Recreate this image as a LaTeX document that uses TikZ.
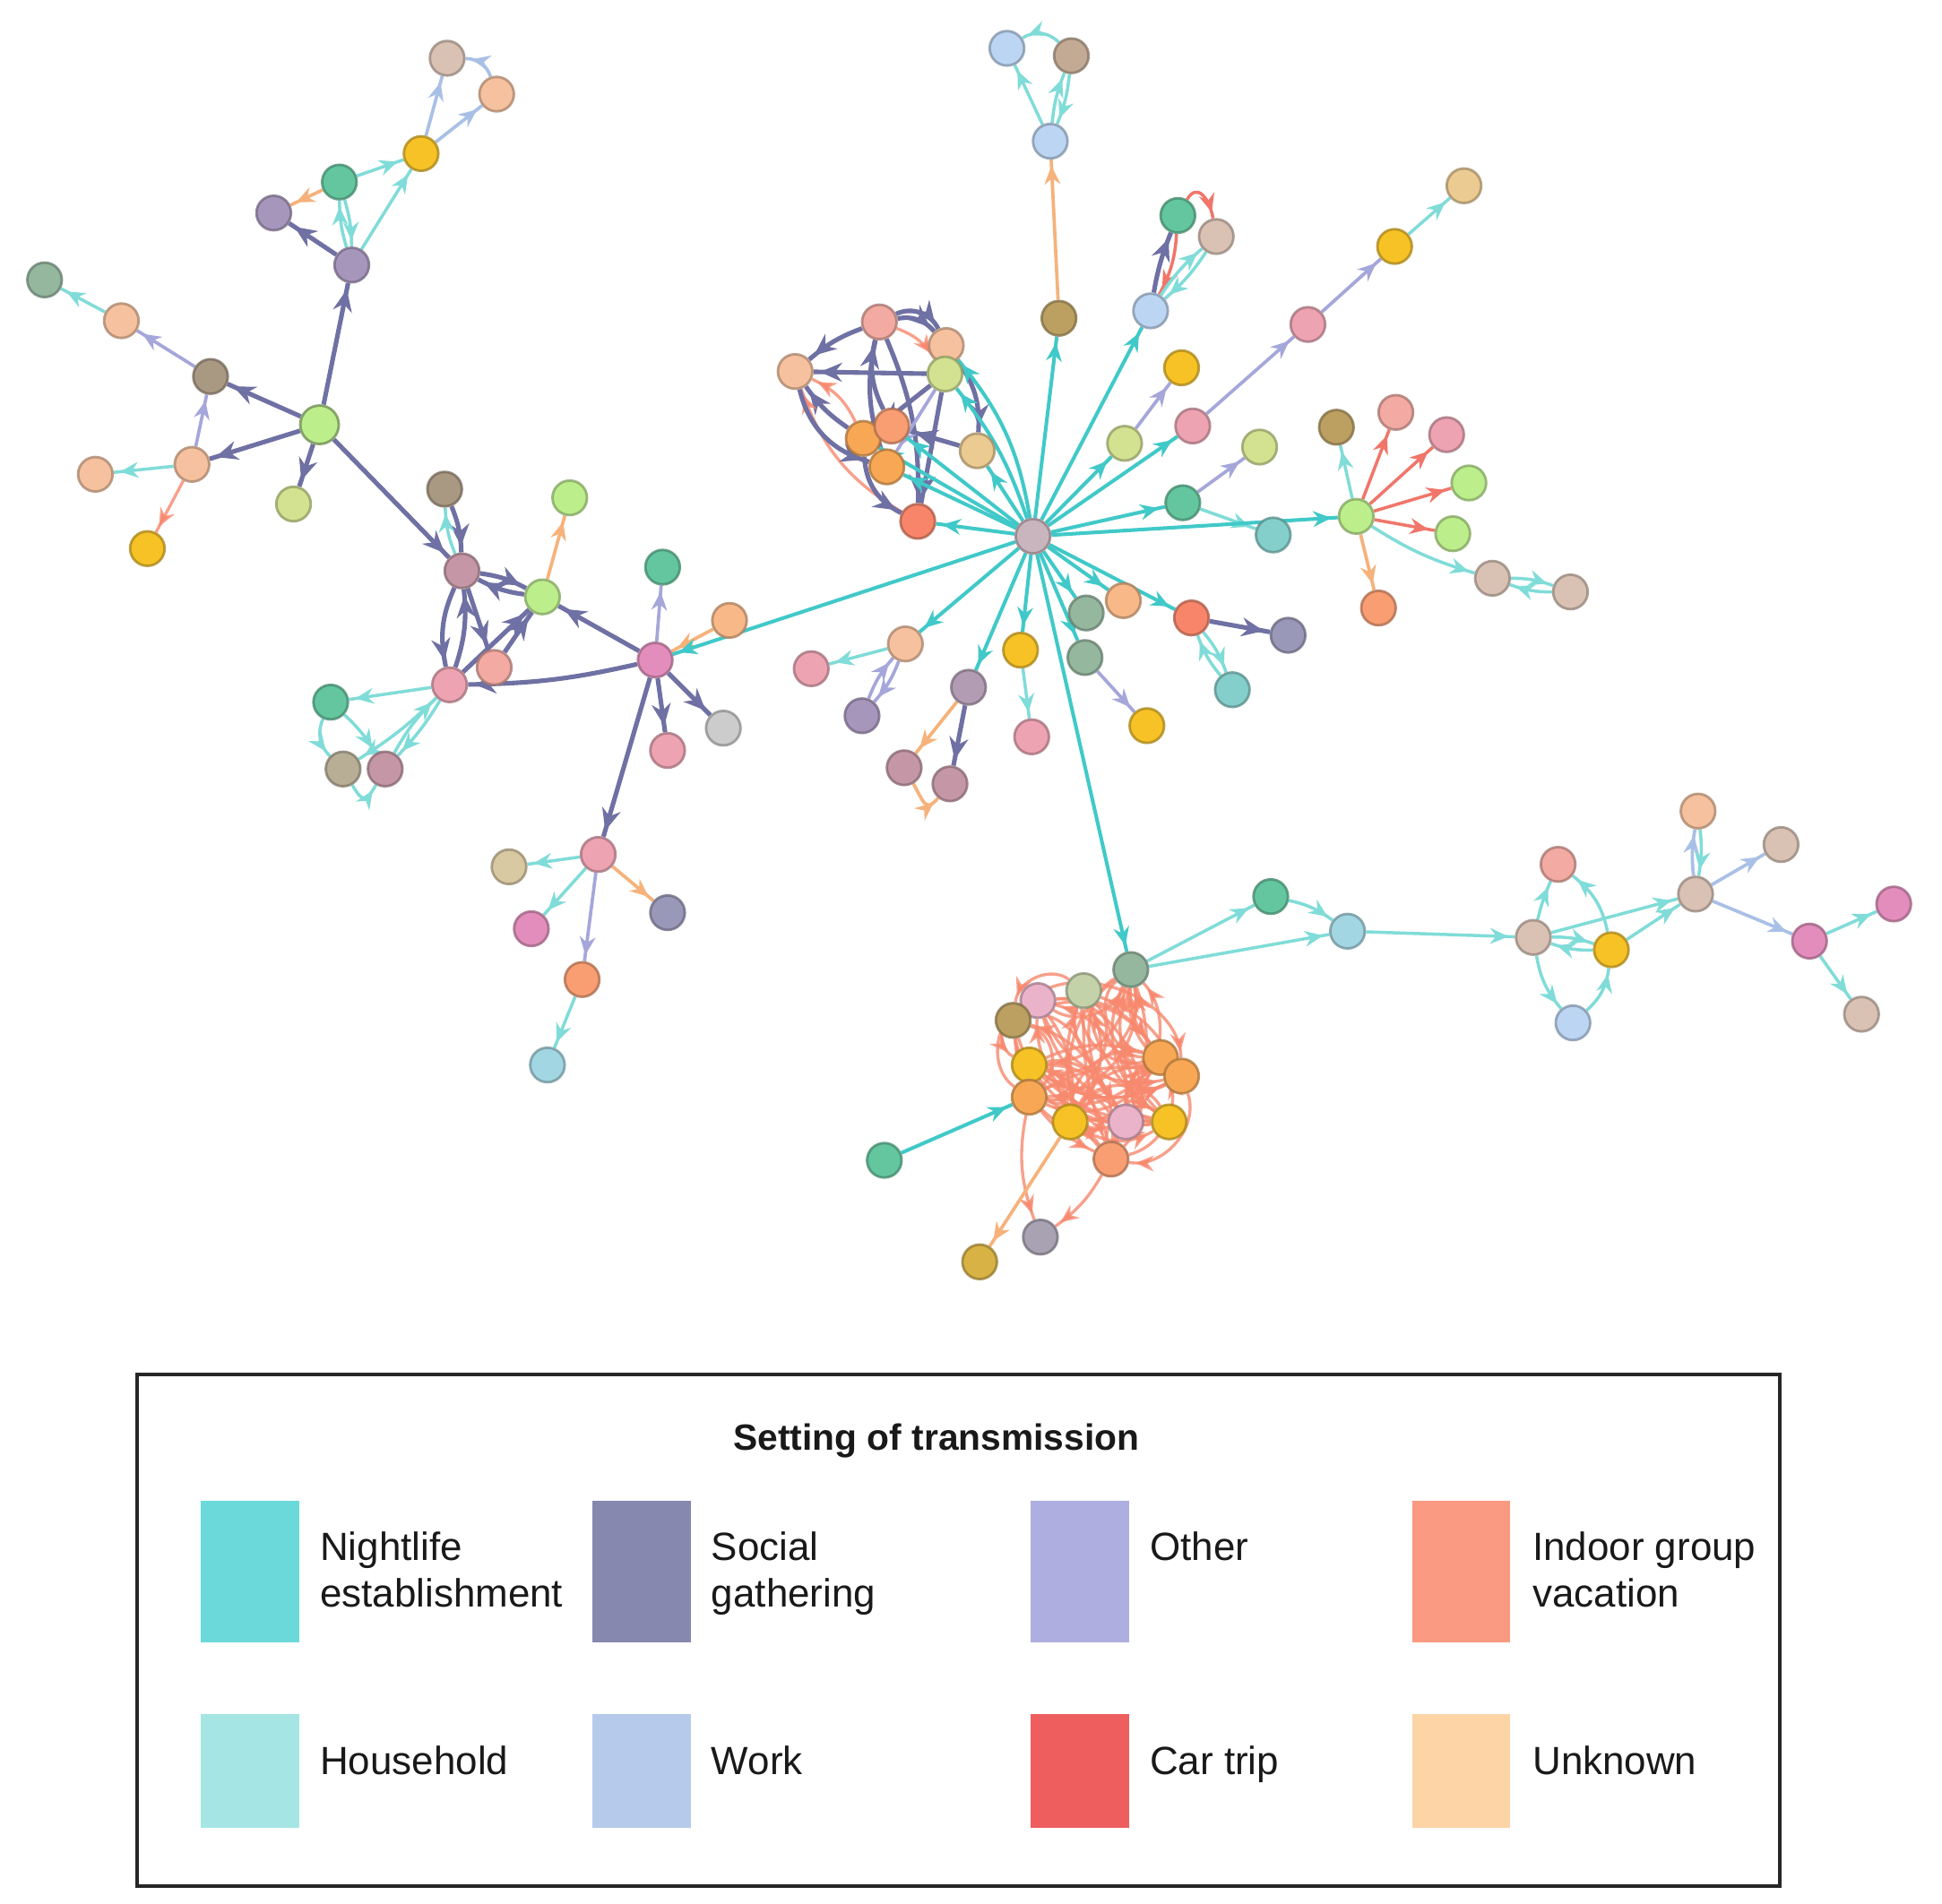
\documentclass[tikz,border=0pt]{standalone}
\usepackage{fontspec}
\setmainfont{Liberation Sans}
\usetikzlibrary{arrows.meta,decorations.markings}
\pgfdeclarelayer{bglayer}
\pgfdeclarelayer{edgelayer}
\pgfsetlayers{bglayer,edgelayer,main}
% node fills
\definecolor{cPeach}{HTML}{F6C19E}
\definecolor{cGold}{HTML}{F6C226}
\definecolor{cGreen}{HTML}{63C69E}
\definecolor{cSage}{HTML}{94B79E}
\definecolor{cTaupe}{HTML}{A99882}
\definecolor{cTaupeL}{HTML}{C2AA94}
\definecolor{cKhaki}{HTML}{B8AE96}
\definecolor{cLime}{HTML}{BDEE8C}
\definecolor{cYG}{HTML}{D2E290}
\definecolor{cPurple}{HTML}{A796BC}
\definecolor{cPink}{HTML}{EDA3B2}
\definecolor{cPinkL}{HTML}{EBB3CA}
\definecolor{cSalmon}{HTML}{F2AAA2}
\definecolor{cOrange}{HTML}{F8A855}
\definecolor{cOrangeL}{HTML}{F8B888}
\definecolor{cOrRed}{HTML}{F89E72}
\definecolor{cLBlue}{HTML}{BBD5F3}
\definecolor{cBeige}{HTML}{D9C2B4}
\definecolor{cOlive}{HTML}{BBA062}
\definecolor{cTeal}{HTML}{84CFCB}
\definecolor{cTealL}{HTML}{A2D6E2}
\definecolor{cGray}{HTML}{CCCCCC}
\definecolor{cSlate}{HTML}{9A98B8}
\definecolor{cGrayV}{HTML}{A8A2B2}
\definecolor{cMagenta}{HTML}{E28DBB}
\definecolor{cMauve}{HTML}{C597A6}
\definecolor{cMauveP}{HTML}{B29CB4}
\definecolor{cRedOr}{HTML}{F8856A}
\definecolor{cTan}{HTML}{EBCB92}
\definecolor{cSand}{HTML}{D9C9A2}
\definecolor{cPale}{HTML}{C4D2AA}
\definecolor{cGoldD}{HTML}{D8B244}
\definecolor{cHub}{HTML}{C9B5BD}
% edge colours
\definecolor{lNL}{HTML}{40C9C8}
\definecolor{lHH}{HTML}{80DCD8}
\definecolor{lSG}{HTML}{6F70A3}
\definecolor{lOT}{HTML}{A5A6DA}
\definecolor{lIV}{HTML}{F7896F}
\definecolor{lWK}{HTML}{A9C0E6}
\definecolor{lCT}{HTML}{F0766A}
\definecolor{lUK}{HTML}{F6B27A}
% legend colours
\definecolor{kNL}{HTML}{6BD9D9}
\definecolor{kSG}{HTML}{8788B0}
\definecolor{kOT}{HTML}{AEAEE0}
\definecolor{kIV}{HTML}{FA9A82}
\definecolor{kHH}{HTML}{A5E6E4}
\definecolor{kWK}{HTML}{B6CAEB}
\definecolor{kCT}{HTML}{EE5E5E}
\definecolor{kUK}{HTML}{FDD4A6}
\tikzset{
  nd/.style={circle, fill=#1, draw=#1!70!black, draw opacity=0.8, line width=0.8pt, minimum size=0.385cm, inner sep=0pt},
  mkS/.style={postaction={decorate}, decoration={markings, mark=at position -2pt with {\arrow{Stealth[length=5.8pt,width=5pt]}}}},
  mkL/.style={postaction={decorate}, decoration={markings, mark=at position -2pt with {\arrow{Stealth[length=7pt,width=6pt]}}}},
  eNL/.style={draw=lNL, line width=1.15pt, mkS},
  eHH/.style={draw=lHH, line width=1pt, mkS},
  eSG/.style={draw=lSG, line width=1.45pt, mkL},
  eOT/.style={draw=lOT, line width=1.05pt, mkS},
  eIV/.style={draw=lIV, line width=0.95pt, draw opacity=0.8, mkS},
  eWK/.style={draw=lWK, line width=1.05pt, mkS},
  eCT/.style={draw=lCT, line width=1pt, mkS},
  eUK/.style={draw=lUK, line width=1.05pt, mkS},
  swatch/.style={inner sep=0pt, outer sep=0pt},
  lgtext/.style={anchor=base west, inner sep=0pt, font=\fontsize{12.5}{15}\selectfont, text=black!90},
}
\begin{document}
\begin{tikzpicture}[x=0.01382cm,y=-0.01382cm]
\useasboundingbox (0,0) rectangle (1568,1537);
\begin{pgfonlayer}{bglayer}
\fill[white] (0,0) rectangle (1568,1537);
\end{pgfonlayer}

% ---------------- nodes ----------------
% top-left
\node[nd=cSage] (A1) at (36,226) {};
\node[nd=cPeach] (A2) at (98,259) {};
\node[nd=cTaupe] (A3) at (170,304) {};
\node[nd=cLime, minimum size=0.43cm, draw=cLime!60!black] (A4) at (258,343) {};
\node[nd=cPeach] (A5) at (155,375) {};
\node[nd=cPeach] (A6) at (77,383) {};
\node[nd=cGold] (A7) at (119,443) {};
\node[nd=cYG] (A8) at (237,407) {};
\node[nd=cPurple] (A9) at (284,214) {};
\node[nd=cPurple] (A10) at (221,172) {};
\node[nd=cGreen] (A11) at (274,147) {};
\node[nd=cGold] (A12) at (340,124) {};
\node[nd=cBeige] (A13) at (361,47) {};
\node[nd=cPeach] (A14) at (401,76) {};
% middle-left
\node[nd=cTaupe] (B0) at (359,395) {};
\node[nd=cMauve] (B1) at (373,461) {};
\node[nd=cLime] (B2) at (438,482) {};
\node[nd=cLime] (B3) at (460,402) {};
\node[nd=cPink] (B4) at (363,553) {};
\node[nd=cSalmon] (B5) at (399,539) {};
\node[nd=cMagenta] (B6) at (529,533) {};
\node[nd=cGreen] (B7) at (535,458) {};
\node[nd=cOrangeL] (B8) at (589,501) {};
\node[nd=cGray] (B9) at (584,588) {};
\node[nd=cPink] (B10) at (539,606) {};
\node[nd=cGreen] (B11) at (267,567) {};
\node[nd=cKhaki] (B12) at (277,621) {};
\node[nd=cMauve] (B13) at (311,621) {};
\node[nd=cPink] (B14) at (483,690) {};
\node[nd=cSand] (B15) at (411,700) {};
\node[nd=cMagenta] (B16) at (429,750) {};
\node[nd=cSlate] (B17) at (539,737) {};
\node[nd=cOrRed] (B18) at (470,791) {};
\node[nd=cTealL] (B19) at (442,860) {};
% hub and upper-left cluster
\node[nd=cHub] (C0) at (834,433) {};
\node[nd=cSalmon] (C1) at (710,260) {};
\node[nd=cPeach] (C2) at (642,300) {};
\node[nd=cPeach] (C3) at (764,279) {};
\node[nd=cYG] (C4) at (763,302) {};
\node[nd=cOrange] (C5) at (697,354) {};
\node[nd=cOrRed] (C6) at (720,344) {};
\node[nd=cOrange] (C7) at (716,377) {};
\node[nd=cTan] (C8) at (789,364) {};
\node[nd=cRedOr] (C9) at (741,421) {};
% top
\node[nd=cOlive] (D1) at (855,257) {};
\node[nd=cLBlue] (D2) at (848,114) {};
\node[nd=cLBlue] (D3) at (813,39) {};
\node[nd=cTaupeL] (D4) at (865,45) {};
% upper right
\node[nd=cLBlue] (E1) at (929,251) {};
\node[nd=cGreen] (E2) at (951,174) {};
\node[nd=cBeige] (E3) at (982,191) {};
\node[nd=cGold] (E4) at (954,297) {};
\node[nd=cYG] (E5) at (908,358) {};
\node[nd=cPink] (E6) at (963,344) {};
\node[nd=cPink] (E7) at (1056,262) {};
\node[nd=cGold] (E8) at (1126,199) {};
\node[nd=cTan] (E9) at (1182,150) {};
\node[nd=cYG] (E10) at (1017,361) {};
\node[nd=cGreen] (E11) at (955,406) {};
\node[nd=cTeal] (E12) at (1028,432) {};
\node[nd=cLime] (E13) at (1095,417) {};
\node[nd=cOlive] (E14) at (1079,345) {};
\node[nd=cSalmon] (E15) at (1127,333) {};
\node[nd=cPink] (E16) at (1168,351) {};
\node[nd=cLime] (E17) at (1186,390) {};
\node[nd=cLime] (E18) at (1173,431) {};
\node[nd=cBeige] (E19) at (1205,467) {};
\node[nd=cBeige] (E20) at (1268,478) {};
\node[nd=cOrRed] (E21) at (1113,491) {};
% below hub
\node[nd=cOrangeL] (F1) at (907,485) {};
\node[nd=cSage] (F2) at (877,495) {};
\node[nd=cRedOr] (F3) at (962,499) {};
\node[nd=cSlate] (F4) at (1040,513) {};
\node[nd=cTeal] (F5) at (995,557) {};
\node[nd=cSage] (F6) at (876,531) {};
\node[nd=cGold] (F7) at (926,586) {};
\node[nd=cGold] (F8) at (824,525) {};
\node[nd=cPink] (F9) at (833,595) {};
\node[nd=cMauveP] (F10) at (782,555) {};
\node[nd=cPeach] (F11) at (731,520) {};
\node[nd=cPink] (F12) at (655,540) {};
\node[nd=cPurple] (F13) at (696,578) {};
\node[nd=cMauve] (F14) at (730,620) {};
\node[nd=cMauve] (F15) at (767,633) {};
% indoor group vacation cluster
\node[nd=cSage] (G0) at (913,783) {};
\node[nd=cPale] (G1) at (875,800) {};
\node[nd=cPinkL] (G2) at (838,808) {};
\node[nd=cOlive] (G3) at (818,824) {};
\node[nd=cGold] (G4) at (831,860) {};
\node[nd=cOrange] (G5) at (831,886) {};
\node[nd=cGold] (G6) at (864,906) {};
\node[nd=cPinkL] (G7) at (909,906) {};
\node[nd=cOrange] (G8) at (937,854) {};
\node[nd=cOrange] (G9) at (954,869) {};
\node[nd=cGold] (G10) at (944,906) {};
\node[nd=cOrRed] (G11) at (897,936) {};
\node[nd=cGrayV] (G12) at (840,999) {};
\node[nd=cGoldD] (G13) at (791,1019) {};
\node[nd=cGreen] (G14) at (714,937) {};
% right chain
\node[nd=cGreen] (H1) at (1026,724) {};
\node[nd=cTealL] (H2) at (1088,752) {};
\node[nd=cBeige] (H3) at (1238,757) {};
\node[nd=cGold] (H4) at (1301,767) {};
\node[nd=cSalmon] (H5) at (1258,698) {};
\node[nd=cLBlue] (H6) at (1270,826) {};
\node[nd=cBeige] (H7) at (1369,722) {};
\node[nd=cPeach] (H8) at (1371,655) {};
\node[nd=cBeige] (H9) at (1438,682) {};
\node[nd=cMagenta] (H10) at (1461,760) {};
\node[nd=cMagenta] (H11) at (1529,730) {};
\node[nd=cBeige] (H12) at (1503,819) {};

% ---------------- edges ----------------
\begin{pgfonlayer}{edgelayer}
% top-left
\draw[eSG] (A4) -- (A9);
\draw[eSG] (A4) -- (A3);
\draw[eSG] (A4) -- (A5);
\draw[eSG] (A4) -- (A8);
\draw[eSG] (A4) -- (B1);
\draw[eOT] (A3) -- (A2);
\draw[eHH] (A2) -- (A1);
\draw[eOT] (A5) -- (A3);
\draw[eHH] (A5) -- (A6);
\draw[eIV] (A5) -- (A7);
\draw[eSG] (A9) -- (A10);
\draw[eHH, bend left=8] (A9) to (A11);
\draw[eHH, bend left=8] (A11) to (A9);
\draw[eHH] (A9) -- (A12);
\draw[eUK] (A11) -- (A10);
\draw[eHH] (A11) -- (A12);
\draw[eWK] (A12) -- (A13);
\draw[eWK] (A12) -- (A14);
\draw[eWK, bend right=35] (A14) to (A13);
% middle-left
\draw[eSG, bend left=10] (B0) to (B1);
\draw[eHH, bend left=10] (B1) to (B0);
\draw[eSG, bend left=10] (B1) to (B2);
\draw[eSG, bend left=10] (B2) to (B1);
\draw[eUK] (B2) -- (B3);
\draw[eSG] (B6) -- (B2);
\draw[eSG, bend right=18] (B1) to (B4);
\draw[eSG, bend right=12] (B4) to (B1);
\draw[eSG] (B1) -- (B5);
\draw[eSG] (B5) -- (B2);
\draw[eSG] (B4) -- (B2);
\draw[eSG, bend left=6] (B6) to (B4);
\draw[eHH] (B4) -- (B11);
\draw[eHH, bend left=6] (B4) to (B12);
\draw[eHH, bend left=6] (B4) to (B13);
\draw[eHH, bend left=8] (B13) to (B4);
\draw[eHH, bend right=35] (B11) to (B12);
\draw[eHH, bend left=8] (B11) to (B13);
\draw[eHH] (B12) to[out=-60, in=-120, looseness=2.2] (B13);
\draw[eOT] (B6) -- (B7);
\draw[eSG] (B6) -- (B9);
\draw[eSG] (B6) -- (B10);
\draw[eSG] (B6) -- (B14);
\draw[eUK] (B8) -- (B6);
\draw[eNL] (C0) -- (B6);
\draw[eHH] (B14) -- (B15);
\draw[eHH] (B14) -- (B16);
\draw[eUK] (B14) -- (B17);
\draw[eOT] (B14) -- (B18);
\draw[eHH] (B18) -- (B19);
% upper-left cluster
\draw[eSG, bend right=10] (C1) to (C2);
\draw[eSG] (C4) to (C2);
\draw[eSG, bend left=10] (C5) to (C2);
\draw[eIV, bend left=20] (C9) to (C2);
\draw[eSG, bend right=15] (C1) to (C7);
\draw[eSG, bend left=12] (C1) to (C9);
\draw[eSG, bend left=30] (C1) to (C3);
\draw[eIV, bend left=18] (C1) to (C4);
\draw[eSG, bend left=45] (C1) to (C3);
\draw[eSG] (C4) to (C9);
\draw[eSG, bend left=20] (C3) to (C8);
\draw[eSG] (C8) to (C6);
\draw[eSG] (C4) to (C5);
\draw[eOT] (C4) to (C7);
\draw[eSG, bend right=30] (C5) to (C9);
\draw[eSG, bend right=30] (C2) to (C7);
\draw[eIV, bend right=20] (C5) to (C2);
\draw[eSG, bend left=20] (C6) to (C1);
\draw[eNL, bend right=10] (C0) to (C4);
\draw[eNL, bend right=15] (C0) to (C3);
\draw[eNL] (C0) -- (C8);
\draw[eNL] (C0) -- (C9);
\draw[eNL] (C0) -- (C5);
\draw[eNL] (C0) -- (C6);
\draw[eNL] (C0) -- (C7);
% top
\draw[eNL] (C0) -- (D1);
\draw[eUK] (D1) -- (D2);
\draw[eHH] (D2) -- (D3);
\draw[eHH, bend left=8] (D2) to (D4);
\draw[eHH, bend left=8] (D4) to (D2);
\draw[eHH, bend right=40] (D4) to (D3);
% upper right
\draw[eNL] (C0) -- (E1);
\draw[eSG, bend left=6] (E1) to (E2);
\draw[eCT, bend left=12] (E2) to (E1);
\draw[eHH, bend left=8] (E1) to (E3);
\draw[eHH, bend left=8] (E3) to (E1);
\draw[eCT] (E2) to[out=60, in=100, looseness=1.6] (E3);
\draw[eNL] (C0) -- (E5);
\draw[eOT] (E5) -- (E4);
\draw[eNL] (C0) -- (E6);
\draw[eOT] (E6) -- (E7);
\draw[eOT] (E7) -- (E8);
\draw[eHH] (E8) -- (E9);
\draw[eNL] (C0) -- (E11);
\draw[eOT] (E11) -- (E10);
\draw[eHH] (E11) -- (E12);
\draw[eNL] (C0) -- (E13);
\draw[eHH] (E13) -- (E14);
\draw[eCT] (E13) -- (E15);
\draw[eCT] (E13) -- (E16);
\draw[eCT] (E13) -- (E17);
\draw[eCT] (E13) -- (E18);
\draw[eHH, bend right=8] (E13) to (E19);
\draw[eHH, bend left=10] (E19) to (E20);
\draw[eHH, bend left=10] (E20) to (E19);
\draw[eUK] (E13) -- (E21);
% below hub
\draw[eNL] (C0) -- (F1);
\draw[eNL] (C0) -- (F2);
\draw[eNL] (C0) -- (F3);
\draw[eSG] (F3) -- (F4);
\draw[eHH, bend left=10] (F3) to (F5);
\draw[eHH, bend left=10] (F5) to (F3);
\draw[eNL] (C0) -- (F6);
\draw[eOT] (F6) -- (F7);
\draw[eNL] (C0) -- (F8);
\draw[eHH] (F8) -- (F9);
\draw[eNL] (C0) -- (F10);
\draw[eSG] (F10) -- (F15);
\draw[eUK] (F10) -- (F14);
\draw[eNL] (C0) -- (F11);
\draw[eHH] (F11) -- (F12);
\draw[eOT, bend left=10] (F11) to (F13);
\draw[eOT, bend left=10] (F13) to (F11);
\draw[eUK] (F14) to[out=-60, in=-130, looseness=1.8] (F15);
\draw[eNL] (C0) -- (G0);
% indoor group vacation cluster
\foreach \s/\t/\b in {0/4/40, 0/5/50, 0/9/-30, 0/10/-40, 0/11/-50, 1/9/-30, 1/10/-20, 1/11/-10,
  2/8/30, 2/9/-40, 2/10/-30, 2/6/20, 3/8/40, 3/10/-40, 3/11/-30, 4/8/20, 4/9/-30, 4/10/-20,
  4/7/30, 5/8/-30, 5/9/20, 5/7/-30, 6/8/50, 6/9/40, 6/10/-30, 7/0/-20, 7/3/40, 8/5/40,
  9/4/30, 10/2/50, 11/3/-40, 11/1/30, 11/4/-30, 8/0/20, 9/1/-20, 10/0/30, 5/2/60, 4/0/-60,
  3/9/70, 11/8/-50, 6/1/-30, 7/8/30, 7/2/-40, 1/3/-60, 2/0/-50, 9/11/60, 10/6/-60, 3/5/60,
  0/8/-70, 1/5/70, 0/10/-75, 1/9/-70, 2/4/-70, 3/6/75, 5/11/65, 11/10/70, 8/10/-75, 6/0/-65,
  1/8/-55, 2/11/70, 4/11/60, 9/7/-50}
  {\draw[eIV, bend left=\b] (G\s) to (G\t);}
\draw[eIV, bend right=15] (G5) to (G12);
\draw[eIV, bend left=12] (G11) to (G12);
\draw[eUK] (G6) -- (G13);
\draw[eNL] (G14) -- (G5);
% right chain
\draw[eHH] (G0) -- (H1);
\draw[eHH] (G0) -- (H2);
\draw[eHH, bend left=12] (H1) to (H2);
\draw[eHH] (H2) -- (H3);
\draw[eHH, bend left=5] (H3) to (H5);
\draw[eHH, bend right=20] (H4) to (H5);
\draw[eHH, bend left=10] (H3) to (H4);
\draw[eHH, bend left=10] (H4) to (H3);
\draw[eHH, bend right=15] (H3) to (H6);
\draw[eHH, bend right=20] (H6) to (H4);
\draw[eHH] (H3) -- (H7);
\draw[eHH] (H4) -- (H7);
\draw[eWK, bend left=8] (H7) to (H8);
\draw[eHH, bend left=8] (H8) to (H7);
\draw[eWK] (H7) -- (H9);
\draw[eWK] (H7) -- (H10);
\draw[eHH] (H10) -- (H11);
\draw[eHH] (H10) -- (H12);
\end{pgfonlayer}

% ---------------- legend ----------------
\draw[line width=1.1pt, black!85] (111,1110) rectangle (1437,1523);
\node[anchor=base, inner sep=0pt, font=\fontsize{11.6}{14}\selectfont\bfseries, text=black!90] (lgT) at (756,1171) {Setting of transmission};
\node[swatch, fill=kNL, minimum width=80*0.01382cm, minimum height=114*0.01382cm] (sw1) at (202,1269) {};
\node[swatch, fill=kSG, minimum width=80*0.01382cm, minimum height=114*0.01382cm] (sw2) at (518,1269) {};
\node[swatch, fill=kOT, minimum width=80*0.01382cm, minimum height=114*0.01382cm] (sw3) at (872,1269) {};
\node[swatch, fill=kIV, minimum width=79*0.01382cm, minimum height=114*0.01382cm] (sw4) at (1180,1269) {};
\node[swatch, fill=kHH, minimum width=80*0.01382cm, minimum height=92*0.01382cm] (sw5) at (202,1430) {};
\node[swatch, fill=kWK, minimum width=80*0.01382cm, minimum height=92*0.01382cm] (sw6) at (518,1430) {};
\node[swatch, fill=kCT, minimum width=80*0.01382cm, minimum height=92*0.01382cm] (sw7) at (872,1430) {};
\node[swatch, fill=kUK, minimum width=79*0.01382cm, minimum height=92*0.01382cm] (sw8) at (1180,1430) {};
\node[lgtext] (lg1a) at (258,1260) {Nightlife};
\node[lgtext] (lg1b) at (258,1298) {establishment};
\node[lgtext] (lg2a) at (574,1260) {Social};
\node[lgtext] (lg2b) at (574,1298) {gathering};
\node[lgtext] (lg3a) at (928,1260) {Other};
\node[lgtext] (lg4a) at (1237,1260) {Indoor group};
\node[lgtext] (lg4b) at (1237,1298) {vacation};
\node[lgtext] (lg5) at (258,1433) {Household};
\node[lgtext] (lg6) at (574,1433) {Work};
\node[lgtext] (lg7) at (928,1433) {Car trip};
\node[lgtext] (lg8) at (1237,1433) {Unknown};
\end{tikzpicture}
\end{document}
